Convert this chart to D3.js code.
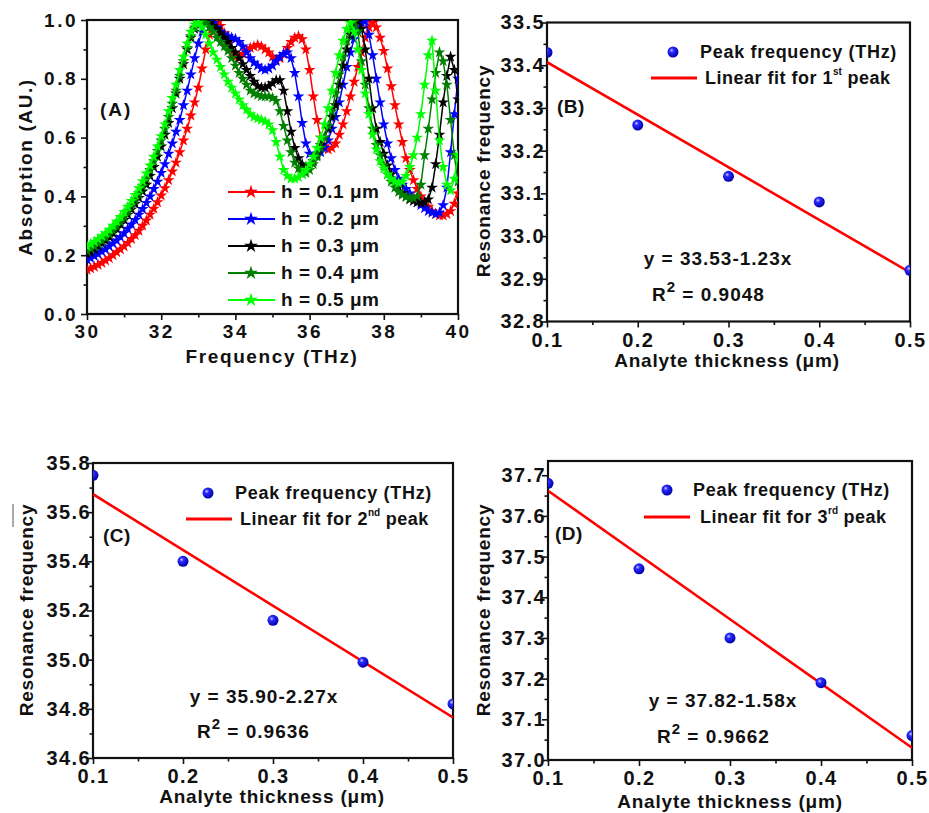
<!DOCTYPE html>
<html>
<head>
<meta charset="utf-8">
<script src="https://cdn.jsdelivr.net/npm/d3@7"></script>
<style>
  body { margin: 0; background: #fff; }
  svg { display: block; }
  text { font-family: "Liberation Sans", Arial, sans-serif; fill: #111; }
</style>
</head>
<body>
<svg id="fig" width="929" height="813"></svg>
<script>
// ---------- Panel A: absorption spectra (frequency grid in THz) ----------
const freqTHz = [
  30.0,30.1,30.2,30.3,30.4,30.5,30.6,30.7,30.8,30.9,
  31.0,31.1,31.2,31.3,31.4,31.5,31.6,31.7,31.8,31.9,
  32.0,32.1,32.2,32.3,32.4,32.5,32.6,32.7,32.8,32.9,
  33.0,33.1,33.2,33.3,33.4,33.5,33.6,33.7,33.8,33.9,
  34.0,34.1,34.2,34.3,34.4,34.5,34.6,34.7,34.8,34.9,
  35.0,35.1,35.2,35.3,35.4,35.5,35.6,35.7,35.8,35.9,
  36.0,36.1,36.2,36.3,36.4,36.5,36.6,36.7,36.8,36.9,
  37.0,37.1,37.2,37.3,37.4,37.5,37.6,37.7,37.8,37.9,
  38.0,38.1,38.2,38.3,38.4,38.5,38.6,38.7,38.8,38.9,
  39.0,39.1,39.2,39.3,39.4,39.5,39.6,39.7,39.8,39.9,
  40.0
];

const absH01 = [
  .150,.155,.160,.167,.174,.182,.190,.200,.210,.220,
  .230,.242,.255,.268,.283,.300,.318,.338,.358,.380,
  .403,.428,.455,.485,.515,.550,.590,.630,.675,.720,
  .770,.835,.900,.950,.980,.990,.980,.955,.920,.890,
  .875,.875,.885,.895,.905,.910,.915,.910,.900,.890,
  .875,.865,.870,.885,.905,.925,.940,.945,.935,.900,
  .830,.740,.660,.600,.570,.560,.565,.580,.610,.645,
  .690,.740,.790,.840,.890,.940,.975,.990,.975,.940,
  .895,.835,.775,.710,.645,.585,.530,.490,.455,.425,
  .400,.380,.365,.350,.340,.335,.335,.340,.350,.375,
  .410
];

const absH02 = [
  .185,.190,.197,.204,.212,.220,.230,.240,.250,.262,
  .275,.290,.305,.320,.338,.357,.378,.400,.425,.450,
  .480,.510,.545,.580,.620,.660,.710,.760,.815,.870,
  .920,.960,.985,.995,.990,.975,.960,.950,.945,.940,
  .935,.925,.910,.890,.870,.855,.845,.835,.830,.835,
  .845,.860,.875,.885,.890,.870,.820,.740,.650,.580,
  .545,.535,.540,.550,.565,.590,.630,.670,.720,.780,
  .840,.890,.935,.970,.990,.995,.950,.880,.800,.720,
  .645,.580,.530,.490,.460,.440,.425,.410,.395,.380,
  .370,.360,.350,.345,.340,.345,.370,.430,.550,.680,
  .800
];

const absH03 = [
  .205,.210,.220,.230,.240,.250,.262,.275,.290,.305,
  .320,.338,.356,.375,.395,.417,.440,.470,.500,.535,
  .570,.610,.650,.700,.750,.800,.850,.900,.940,.970,
  .990,1.00,1.00,.990,.980,.970,.955,.940,.925,.905,
  .890,.870,.850,.830,.810,.790,.775,.770,.770,.775,
  .785,.795,.795,.760,.690,.620,.565,.530,.510,.500,
  .505,.520,.545,.575,.600,.630,.670,.710,.780,.845,
  .900,.950,.985,.995,.970,.900,.800,.700,.630,.585,
  .545,.505,.475,.450,.430,.410,.400,.390,.385,.380,
  .378,.380,.390,.430,.510,.610,.720,.810,.875,.830,
  .730
];

const absH04 = [
  .215,.222,.230,.240,.250,.260,.272,.285,.300,.315,
  .332,.350,.370,.390,.410,.435,.460,.490,.520,.555,
  .590,.630,.670,.715,.760,.810,.860,.905,.945,.975,
  .995,1.00,.990,.975,.960,.940,.925,.910,.895,.870,
  .845,.820,.800,.780,.760,.750,.745,.740,.740,.740,
  .735,.725,.690,.640,.590,.550,.515,.495,.480,.480,
  .490,.510,.535,.565,.600,.640,.690,.750,.815,.875,
  .930,.970,.995,.960,.860,.780,.700,.630,.575,.540,
  .505,.475,.450,.430,.415,.405,.398,.395,.395,.400,
  .440,.540,.630,.730,.820,.890,.860,.780,.660,.540,
  .450
];

const absH05 = [
  .230,.238,.246,.255,.265,.275,.287,.300,.315,.330,
  .347,.365,.385,.405,.428,.452,.478,.505,.535,.570,
  .605,.645,.690,.735,.780,.830,.875,.920,.960,.985,
  .990,.975,.950,.920,.890,.865,.840,.815,.790,.770,
  .750,.730,.710,.695,.680,.670,.665,.660,.655,.645,
  .625,.585,.535,.490,.470,.460,.460,.465,.475,.490,
  .510,.535,.565,.600,.645,.700,.760,.820,.880,.930,
  .970,.990,.960,.900,.830,.750,.680,.610,.560,.520,
  .495,.475,.460,.450,.445,.450,.470,.500,.540,.600,
  .680,.780,.880,.930,.760,.590,.500,.440,.420,.460,
  .540
];

const spectra = [absH01, absH02, absH03, absH04, absH05];
const spectraLabels = ["h = 0.1 \u03bcm", "h = 0.2 \u03bcm", "h = 0.3 \u03bcm", "h = 0.4 \u03bcm", "h = 0.5 \u03bcm"];
const spectraColors = ["#ff0000", "#0000ff", "#000000", "#008000", "#00ff00"];

// ---------- Panels B-D: resonance peak positions vs analyte thickness ----------
const thicknessUm = [0.1, 0.2, 0.3, 0.4, 0.5];
const peak1THz = [33.43, 33.26, 33.14, 33.08, 32.92];
const peak2THz = [35.75, 35.40, 35.16, 34.99, 34.82];
const peak3THz = [37.68, 37.47, 37.30, 37.19, 37.06];
const fitIntercept = [33.53, 35.90, 37.82];
const fitSlope = [-1.23, -2.27, -1.58];
const fitR2 = ["0.9048", "0.9636", "0.9662"];
const peakOrdinal = [["1", "st"], ["2", "nd"], ["3", "rd"]];
const panelTags = ["(B)", "(C)", "(D)"];

const svg = d3.select("#fig");
svg.append("rect").attr("width", 929).attr("height", 813).attr("fill", "#fff");

const defs = svg.append("defs");
const grad = defs.append("radialGradient").attr("id", "ball")
  .attr("cx", "38%").attr("cy", "35%").attr("r", "65%");
grad.append("stop").attr("offset", "0%").attr("stop-color", "#c8c8ff");
grad.append("stop").attr("offset", "30%").attr("stop-color", "#2a2aff");
grad.append("stop").attr("offset", "100%").attr("stop-color", "#0000a8");

function clip(id, x, y) {
  const [x0, x1] = x.range(), [y0, y1] = y.range();
  defs.append("clipPath").attr("id", id).append("rect")
    .attr("x", x0).attr("y", y1).attr("width", x1 - x0).attr("height", y0 - y1);
  return `url(#${id})`;
}

// Axes with outward major/minor ticks and a closed frame
function drawAxes(x, y, cfg) {
  const [x0, x1] = x.range(), [yb, yt] = y.range();
  const g = svg.append("g");
  const styleAxis = s => {
    s.select(".domain").remove();
    s.selectAll("line").attr("stroke", "#111").attr("stroke-width", 1.6);
    s.selectAll("text").attr("font-size", cfg.tickSize).attr("font-weight", "bold")
      .attr("letter-spacing", cfg.tickSpacing).attr("fill", "#111");
  };
  g.append("g").attr("transform", `translate(0,${yb})`)
    .call(d3.axisBottom(x).tickValues(cfg.xMinor).tickSize(3.5).tickFormat("").tickSizeOuter(0))
    .call(styleAxis);
  g.append("g").attr("transform", `translate(0,${yb})`)
    .call(d3.axisBottom(x).tickValues(cfg.xMajor).tickSize(6).tickPadding(5).tickFormat(cfg.xFmt).tickSizeOuter(0))
    .call(styleAxis);
  g.append("g").attr("transform", `translate(${x0},0)`)
    .call(d3.axisLeft(y).tickValues(cfg.yMinor).tickSize(3.5).tickFormat("").tickSizeOuter(0))
    .call(styleAxis);
  g.append("g").attr("transform", `translate(${x0},0)`)
    .call(d3.axisLeft(y).tickValues(cfg.yMajor).tickSize(6).tickPadding(cfg.yPad).tickFormat(cfg.yFmt).tickSizeOuter(0))
    .call(styleAxis);
  g.append("rect").attr("x", x0).attr("y", yt).attr("width", x1 - x0).attr("height", yb - yt)
    .attr("fill", "none").attr("stroke", "#111").attr("stroke-width", 2.2);
  // axis titles
  svg.append("text").attr("x", cfg.xTitle[0]).attr("y", cfg.xTitle[1])
    .attr("text-anchor", "middle").attr("dominant-baseline", "middle")
    .attr("font-size", 19).attr("font-weight", "bold").attr("letter-spacing", cfg.titleSpacing)
    .text(cfg.xLabel);
  svg.append("text")
    .attr("transform", `translate(${cfg.yTitle[0]},${cfg.yTitle[1]}) rotate(-90)`)
    .attr("text-anchor", "middle").attr("dominant-baseline", "middle")
    .attr("font-size", 19).attr("font-weight", "bold").attr("letter-spacing", cfg.titleSpacing)
    .text(cfg.yLabel);
}

// ---------------- Panel A ----------------
const xA = d3.scaleLinear().domain([30, 40]).range([87, 458]);
const yA = d3.scaleLinear().domain([0, 1]).range([314, 20]);

drawAxes(xA, yA, {
  xMajor: [30, 32, 34, 36, 38, 40], xMinor: [31, 33, 35, 37, 39], xFmt: d3.format("d"),
  yMajor: [0, 0.2, 0.4, 0.6, 0.8, 1.0], yMinor: [0.1, 0.3, 0.5, 0.7, 0.9], yFmt: d3.format(".1f"),
  tickSize: 19, tickSpacing: 2.5, titleSpacing: 1.6, yPad: 3,
  xLabel: "Frequency (THz)", xTitle: [272, 358],
  yLabel: "Absorption (AU.)", yTitle: [27, 167]
});

const star = d3.symbol().type(d3.symbolStar).size(44);
const clipA = clip("clipA", xA, yA);
const plotA = svg.append("g").attr("clip-path", clipA);
const lineA = d3.line().x((d, i) => xA(freqTHz[i])).y(d => yA(d));
spectra.forEach((vals, k) => {
  const sg = plotA.append("g");
  sg.append("path").attr("d", lineA(vals)).attr("fill", "none")
    .attr("stroke", spectraColors[k]).attr("stroke-width", 1.5);
  sg.selectAll("path.pt").data(vals).join("path").attr("class", "pt")
    .attr("transform", (d, i) => `translate(${xA(freqTHz[i])},${yA(d)})`)
    .attr("d", star).attr("fill", spectraColors[k]);
});

svg.append("text").attr("x", 100).attr("y", 111).attr("dominant-baseline", "middle")
  .attr("font-size", 19).attr("font-weight", "bold").attr("letter-spacing", 2).text("(A)");

// legend of panel A
const legA = svg.append("g");
spectraLabels.forEach((lab, k) => {
  const yy = 192 + k * 27;
  legA.append("line").attr("x1", 228).attr("x2", 275).attr("y1", yy).attr("y2", yy)
    .attr("stroke", spectraColors[k]).attr("stroke-width", 2);
  legA.append("path").attr("transform", `translate(251,${yy})`)
    .attr("d", d3.symbol().type(d3.symbolStar).size(60)()).attr("fill", spectraColors[k]);
  legA.append("text").attr("x", 281).attr("y", yy + 1).attr("dominant-baseline", "middle")
    .attr("font-size", 19).attr("font-weight", "bold").attr("letter-spacing", 0.5).text(lab);
});

// ---------------- Panels B, C, D ----------------
const peakSets = [peak1THz, peak2THz, peak3THz];
const panelLayout = [
  { x: [547, 910], y: [321.5, 22.5], dom: [32.8, 33.5], ticks: [32.8, 32.9, 33.0, 33.1, 33.2, 33.3, 33.4, 33.5],
    minor: [32.85, 32.95, 33.05, 33.15, 33.25, 33.35, 33.45],
    xTitle: [727, 362], yTitle: [485, 171],
    ball: [673, 52], ballText: 700, fitLine: [651, 697, 78], fitText: 705,
    tag: [557, 108], eq: [718, 260], r2: [652, 296] },
  { x: [93, 453], y: [758, 463], dom: [34.6, 35.8], ticks: [34.6, 34.8, 35.0, 35.2, 35.4, 35.6, 35.8],
    minor: [34.7, 34.9, 35.1, 35.3, 35.5, 35.7],
    xTitle: [272, 798], yTitle: [28, 610],
    ball: [208, 493], ballText: 235, fitLine: [186, 232, 519], fitText: 240,
    tag: [103, 537], eq: [264, 698], r2: [197, 733] },
  { x: [548, 912], y: [760, 461], dom: [37.0, 37.735], ticks: [37.0, 37.1, 37.2, 37.3, 37.4, 37.5, 37.6, 37.7],
    minor: [37.05, 37.15, 37.25, 37.35, 37.45, 37.55, 37.65],
    xTitle: [730, 803], yTitle: [485, 610],
    ball: [667, 490], ballText: 693, fitLine: [644, 690, 517], fitText: 700,
    tag: [555, 535], eq: [723, 702], r2: [657, 738] }
];

panelLayout.forEach((P, k) => {
  const x = d3.scaleLinear().domain([0.1, 0.5]).range(P.x);
  const y = d3.scaleLinear().domain(P.dom).range(P.y);
  drawAxes(x, y, {
    xMajor: thicknessUm, xMinor: [0.15, 0.25, 0.35, 0.45], xFmt: d3.format(".1f"),
    yMajor: P.ticks, yMinor: P.minor, yFmt: d3.format(".1f"),
    tickSize: 20, tickSpacing: 1.4, titleSpacing: 0.8, yPad: -4,
    xLabel: "Analyte thickness (\u03bcm)", xTitle: P.xTitle,
    yLabel: "Resonance frequency", yTitle: P.yTitle
  });
  const g = svg.append("g").attr("clip-path", clip("clip" + k, x, y));
  const fit = d3.line().x(d => x(d)).y(d => y(fitIntercept[k] + fitSlope[k] * d));
  g.append("path").attr("d", fit([0.1, 0.5])).attr("fill", "none")
    .attr("stroke", "#ff0000").attr("stroke-width", 2.6);
  g.selectAll("circle").data(peakSets[k]).join("circle")
    .attr("cx", (d, i) => x(thicknessUm[i])).attr("cy", d => y(d))
    .attr("r", 5.5).attr("fill", "url(#ball)");

  // legend
  svg.append("circle").attr("cx", P.ball[0]).attr("cy", P.ball[1]).attr("r", 5.5).attr("fill", "url(#ball)");
  svg.append("text").attr("x", P.ballText).attr("y", P.ball[1] + 1).attr("dominant-baseline", "middle")
    .attr("font-size", 18).attr("font-weight", "bold").attr("letter-spacing", 0.7)
    .text("Peak frequency (THz)");
  svg.append("line").attr("x1", P.fitLine[0]).attr("x2", P.fitLine[1])
    .attr("y1", P.fitLine[2]).attr("y2", P.fitLine[2]).attr("stroke", "#ff0000").attr("stroke-width", 3);
  const lt = svg.append("text").attr("x", P.fitText).attr("y", P.fitLine[2] + 1)
    .attr("dominant-baseline", "middle").attr("font-size", 18).attr("font-weight", "bold")
    .attr("letter-spacing", 0.5);
  lt.append("tspan").text("Linear fit for " + peakOrdinal[k][0]);
  lt.append("tspan").attr("dy", -7).attr("font-size", 10).attr("letter-spacing", 0).text(peakOrdinal[k][1]);
  lt.append("tspan").attr("dy", 7).text(" peak");

  // panel tag
  svg.append("text").attr("x", P.tag[0]).attr("y", P.tag[1]).attr("dominant-baseline", "middle")
    .attr("font-size", 19).attr("font-weight", "bold").attr("letter-spacing", 0.5).text(panelTags[k]);

  // fit equation and R^2
  svg.append("text").attr("x", P.eq[0]).attr("y", P.eq[1]).attr("text-anchor", "middle")
    .attr("dominant-baseline", "middle").attr("font-size", 19).attr("font-weight", "bold")
    .attr("letter-spacing", 1)
    .text(`y = ${fitIntercept[k].toFixed(2)}-${Math.abs(fitSlope[k]).toFixed(2)}x`);
  const rt = svg.append("text").attr("x", P.r2[0]).attr("y", P.r2[1])
    .attr("dominant-baseline", "middle").attr("font-size", 19).attr("font-weight", "bold")
    .attr("letter-spacing", 1);
  rt.append("tspan").text("R");
  rt.append("tspan").attr("dy", -8).attr("font-size", 15).text("2");
  rt.append("tspan").attr("dy", 8).text(" = " + fitR2[k]);
});

// small stray stroke left of panel C
svg.append("line").attr("x1", 13).attr("x2", 13).attr("y1", 504).attr("y2", 527)
  .attr("stroke", "#555").attr("stroke-width", 1);
</script>
</body>
</html>
